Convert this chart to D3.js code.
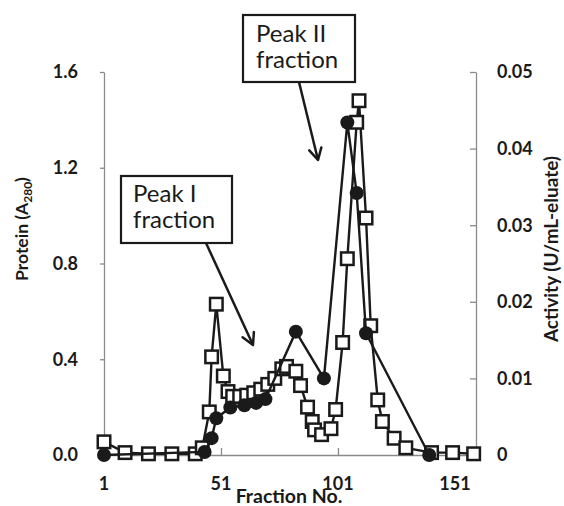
<!DOCTYPE html>
<html>
<head>
<meta charset="utf-8">
<script src="https://cdn.jsdelivr.net/npm/d3@7"></script>
<style>
  html, body { margin: 0; padding: 0; background: #fff; }
  svg { display: block; font-family: Lato, "Open Sans", sans-serif; }
</style>
</head>
<body>
<svg id="chart" width="564" height="506"></svg>
<script>
// Protein absorbance (A280) per fraction — open squares, left axis
const proteinFractions = [1, 10, 20, 30, 40, 43, 46, 47, 49, 52, 54, 56, 59, 62, 65, 68, 71, 74, 77, 79, 83, 85, 88, 90, 91, 94, 98, 100, 103, 105, 109, 110, 113, 115, 118, 120, 125, 130, 141, 150, 159];
const proteinValues    = [0.055, 0.01, 0.005, 0.005, 0.005, 0.03, 0.18, 0.41, 0.63, 0.33, 0.265, 0.245, 0.245, 0.25, 0.26, 0.275, 0.295, 0.32, 0.36, 0.37, 0.35, 0.29, 0.2, 0.14, 0.105, 0.085, 0.11, 0.19, 0.47, 0.82, 1.39, 1.48, 0.99, 0.54, 0.23, 0.14, 0.07, 0.03, 0.01, 0.01, 0.005];

// Enzyme activity (U/mL-eluate) — filled circles, right axis
const activityFractions = [1, 44, 47, 49, 55, 61, 66, 70, 83, 95, 105, 109, 113, 140];
const activityValues    = [0, 0.0004, 0.0022, 0.0048, 0.0062, 0.0065, 0.0068, 0.0073, 0.0161, 0.01, 0.0434, 0.0342, 0.0159, 0];

// Axis tick labels
const xTicks = [1, 51, 101, 151];
const leftTicks = [0, 0.4, 0.8, 1.2, 1.6];
const rightTicks = [0, 0.01, 0.02, 0.03, 0.04, 0.05];

// Callout annotations
const callouts = [
  { lines: ["Peak II", "fraction"] },
  { lines: ["Peak I", "fraction"] }
];

const svg = d3.select("#chart");
const plotLeft = 104, plotRight = 476, plotTop = 72, plotBottom = 455;

const x = d3.scaleLinear().domain([1, 160]).range([plotLeft, plotRight]);
const yL = d3.scaleLinear().domain([0, 1.6]).range([plotBottom, plotTop]);
const yR = d3.scaleLinear().domain([0, 0.05]).range([plotBottom, plotTop]);

const axisColor = "#8a8a8a";
const ink = "#1a1a1a";

// Axes
const gx = svg.append("g").attr("transform", `translate(0,${plotBottom})`)
  .call(d3.axisBottom(x).tickValues(xTicks.slice(1)).tickSizeInner(-7).tickSizeOuter(0).tickFormat(""));
const gl = svg.append("g").attr("transform", `translate(${plotLeft},0)`)
  .call(d3.axisLeft(yL).tickValues(leftTicks).tickSizeInner(4).tickSizeOuter(0).tickFormat(""));
const gr = svg.append("g").attr("transform", `translate(${plotRight},0)`)
  .call(d3.axisRight(yR).tickValues(rightTicks).tickSizeInner(-6).tickSizeOuter(0).tickFormat(""));
[gx, gl, gr].forEach(g => {
  g.selectAll("path, line").attr("stroke", axisColor).attr("stroke-width", 1.3);
});

// Tick labels
svg.append("g").selectAll("text").data(xTicks).join("text")
  .attr("x", d => x(d)).attr("y", 490)
  .attr("text-anchor", "middle")
  .attr("font-size", 18).attr("font-weight", "bold").attr("fill", ink)
  .text(d => d);
svg.append("g").selectAll("text").data(leftTicks).join("text")
  .attr("x", 78).attr("y", d => yL(d)).attr("dy", "0.35em")
  .attr("text-anchor", "end")
  .attr("font-size", 18).attr("font-weight", "bold").attr("fill", ink)
  .text(d => d3.format(".1f")(d));
svg.append("g").selectAll("text").data(rightTicks).join("text")
  .attr("x", 497).attr("y", d => yR(d)).attr("dy", "0.35em")
  .attr("text-anchor", "start")
  .attr("font-size", 18).attr("font-weight", "bold").attr("fill", ink)
  .text(d => d === 0 ? "0" : d3.format(".2f")(d));

// Axis titles
svg.append("text").attr("x", 289).attr("y", 503)
  .attr("text-anchor", "middle")
  .attr("font-size", 19.5).attr("font-weight", "bold").attr("fill", ink)
  .text("Fraction No.");

const lt = svg.append("text").attr("transform", "translate(28,229) rotate(-90)")
  .attr("text-anchor", "middle")
  .attr("font-size", 17.5).attr("font-weight", "bold").attr("fill", ink);
lt.append("tspan").text("Protein (A");
lt.append("tspan").attr("font-size", 12).attr("dy", 4).text("280");
lt.append("tspan").attr("dy", -4).text(")");

svg.append("text").attr("transform", "translate(558,249) rotate(-90)")
  .attr("text-anchor", "middle")
  .attr("font-size", 19).attr("font-weight", "bold").attr("fill", ink)
  .text("Activity (U/mL-eluate)");

// Protein series
const pData = proteinFractions.map((f, i) => ({ f, v: proteinValues[i] }));
svg.append("path").datum(pData)
  .attr("d", d3.line().x(d => x(d.f)).y(d => yL(d.v)))
  .attr("fill", "none").attr("stroke", ink).attr("stroke-width", 2.4);
const sq = 12.5;
svg.append("g").selectAll("rect").data(pData).join("rect")
  .attr("x", d => x(d.f) - sq / 2).attr("y", d => yL(d.v) - sq / 2)
  .attr("width", sq).attr("height", sq)
  .attr("fill", "#fff").attr("stroke", ink).attr("stroke-width", 2.5);

// Activity series
const aData = activityFractions.map((f, i) => ({ f, v: activityValues[i] }));
svg.append("path").datum(aData)
  .attr("d", d3.line().x(d => x(d.f)).y(d => yR(d.v)))
  .attr("fill", "none").attr("stroke", ink).attr("stroke-width", 2.4);
svg.append("g").selectAll("circle").data(aData).join("circle")
  .attr("cx", d => x(d.f)).attr("cy", d => yR(d.v)).attr("r", 7)
  .attr("fill", ink);

// Callout boxes with arrows
const boxes = [
  { x0: 243, y0: 15, w: 112, h: 67, tx: 256, ty: [42, 68], arrow: [[299, 82], [318, 160]] },
  { x0: 121, y0: 176, w: 111, h: 67, tx: 133, ty: [202, 228], arrow: [[206, 243], [253, 345]] }
];
boxes.forEach((b, i) => {
  const [[x1, y1], [x2, y2]] = b.arrow;
  svg.append("line").attr("x1", x1).attr("y1", y1).attr("x2", x2).attr("y2", y2)
    .attr("stroke", ink).attr("stroke-width", 2.5);
  const ang = Math.atan2(y2 - y1, x2 - x1);
  const len = 13, spread = 0.5;
  const head = d3.path();
  head.moveTo(x2 - len * Math.cos(ang - spread), y2 - len * Math.sin(ang - spread));
  head.lineTo(x2, y2);
  head.lineTo(x2 - len * Math.cos(ang + spread), y2 - len * Math.sin(ang + spread));
  svg.append("path").attr("d", head.toString())
    .attr("fill", "none").attr("stroke", ink).attr("stroke-width", 2.5)
    .attr("stroke-linecap", "round").attr("stroke-linejoin", "round");
  svg.append("rect").attr("x", b.x0).attr("y", b.y0).attr("width", b.w).attr("height", b.h)
    .attr("fill", "#fff").attr("stroke", ink).attr("stroke-width", 2.2);
  callouts[i].lines.forEach((t, j) => {
    svg.append("text").attr("x", b.tx).attr("y", b.ty[j])
      .attr("font-size", 24).attr("fill", ink).text(t);
  });
});
</script>
</body>
</html>
